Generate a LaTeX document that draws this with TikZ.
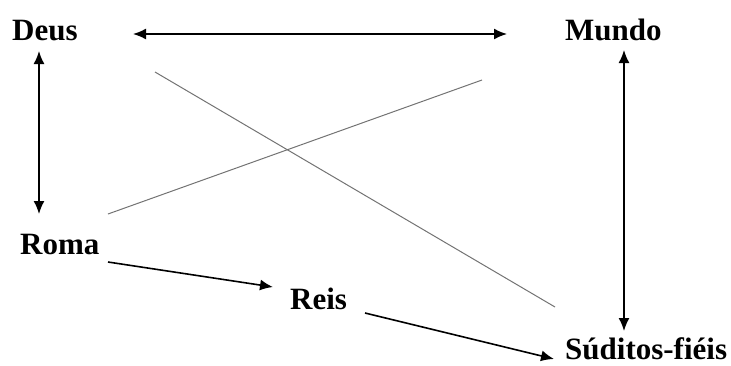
\documentclass[tikz,border=0pt]{standalone}
\usepackage{fontspec}
\setmainfont{Liberation Serif}
\usetikzlibrary{arrows.meta}
\begin{document}
\begin{tikzpicture}[x=1pt,y=-1pt,
  lbl/.style={anchor=base west,inner sep=0pt,font=\fontsize{31}{34}\selectfont\bfseries},
  arr/.style={line width=1.6pt,{Latex[length=13pt,width=11pt]}-{Latex[length=13pt,width=11pt]}},
  onearr/.style={line width=1.6pt,-{Latex[length=13pt,width=11pt]}},
  cross/.style={line width=1pt,draw=black!55}]
\useasboundingbox (0,0) rectangle (731,365);
\node[lbl] (deus) at (12,40) {Deus};
\node[lbl] (mundo) at (565,40) {Mundo};
\node[lbl] (roma) at (20,254) {Roma};
\node[lbl] (reis) at (290,309) {Reis};
\node[lbl] (sud) at (565,359) {Súditos-fiéis};
\coordinate (h1) at (133,34);
\coordinate (h2) at (507,34);
\coordinate (v1a) at (39,51);
\coordinate (v1b) at (39,214);
\coordinate (v2a) at (624,50);
\coordinate (v2b) at (624,331);
\coordinate (r1) at (108,262);
\coordinate (r2) at (273,287);
\coordinate (s1) at (365,313);
\coordinate (s2) at (554,359);
\coordinate (c1a) at (155,72);
\coordinate (c1b) at (555,307);
\coordinate (c2a) at (108,214);
\coordinate (c2b) at (482,80);
\draw[arr] (h1) -- (h2);
\draw[arr] (v1a) -- (v1b);
\draw[arr] (v2a) -- (v2b);
\draw[onearr] (r1) -- (r2);
\draw[onearr] (s1) -- (s2);
\draw[cross] (c1a) -- (c1b);
\draw[cross] (c2a) -- (c2b);
\end{tikzpicture}
\end{document}
